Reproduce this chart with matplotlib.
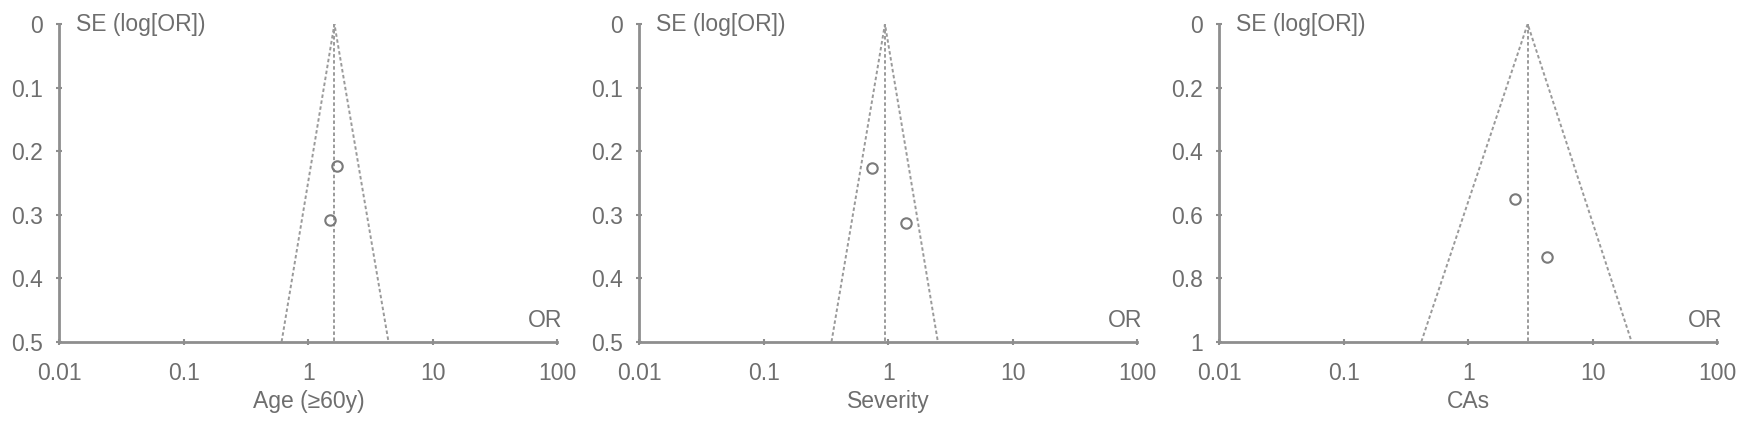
import numpy as np
import matplotlib
matplotlib.use("Agg")
import matplotlib.pyplot as plt

plt.rcParams["font.family"] = ["Liberation Sans", "DejaVu Sans"]

# --- data ---
labels = ["Age (\u226560y)", "Severity", "CAs"]
pooled_or = [1.62, 0.94, 3.0]
funnel_lo = [0.61, 0.35, 0.42]
funnel_hi = [4.4, 2.5, 20.5]
se_max = [0.5, 0.5, 1.0]
study_or = [[1.71, 1.50], [0.74, 1.39], [2.36, 4.26]]
study_se = [[0.224, 0.308], [0.226, 0.313], [0.552, 0.734]]
y_ticks = [[0, 0.1, 0.2, 0.3, 0.4, 0.5],
           [0, 0.1, 0.2, 0.3, 0.4, 0.5],
           [0, 0.2, 0.4, 0.6, 0.8, 1]]
y_ticklabels = [["0", "0.1", "0.2", "0.3", "0.4", "0.5"],
                ["0", "0.1", "0.2", "0.3", "0.4", "0.5"],
                ["0", "0.2", "0.4", "0.6", "0.8", "1"]]
x_ticks = [0.01, 0.1, 1, 10, 100]
x_ticklabels = ["0.01", "0.1", "1", "10", "100"]

axis_col = "#8e8e8e"
text_col = "#6e6e6e"
dash_col = "#9a9a9a"
fs = 16.5

fig = plt.figure(figsize=(17.5, 4.25), dpi=100)
lefts = [0.0339, 0.3653, 0.6967]

for i in range(3):
    ax = fig.add_axes([lefts[i], 0.196, 0.2846, 0.7475])
    ax.set_xscale("log")
    ax.set_xlim(0.01, 100)
    ax.set_ylim(se_max[i], 0)

    # funnel: pooled line and 95% limits
    ax.plot([pooled_or[i], pooled_or[i]], [0, se_max[i]], ls=(0, (1.8, 1.3)),
            color=dash_col, lw=1.4)
    ax.plot([funnel_lo[i], pooled_or[i], funnel_hi[i]], [se_max[i], 0, se_max[i]],
            ls=(0, (1.8, 1.3)), color=dash_col, lw=1.4)

    ax.plot(study_or[i], study_se[i], "o", mfc="none", mec="#7a7a7a",
            mew=1.5, ms=7.5, ls="none")

    for s in ["top", "right"]:
        ax.spines[s].set_visible(False)
    for s in ["left", "bottom"]:
        ax.spines[s].set_color(axis_col)
        ax.spines[s].set_linewidth(2)

    ax.set_xticks(x_ticks)
    ax.set_xticklabels(x_ticklabels)
    ax.xaxis.set_minor_locator(matplotlib.ticker.NullLocator())
    ax.set_yticks(y_ticks[i])
    ax.set_yticklabels(y_ticklabels[i])
    ax.tick_params(direction="inout", length=5, width=1.5, color=axis_col,
                   labelcolor=text_col, labelsize=fs)
    ax.tick_params(axis="y", pad=9)
    ax.tick_params(axis="x", pad=12)

    ax.set_xlabel(labels[i], fontsize=fs, color=text_col, labelpad=4)
    ax.text(0.034, 1.0, "SE (log[OR])", transform=ax.transAxes, fontsize=fs,
            color=text_col, ha="left", va="center")
    ax.text(1.01, 0.03, "OR", transform=ax.transAxes, fontsize=fs,
            color=text_col, ha="right", va="bottom")

fig.savefig("out.png", dpi=100)
